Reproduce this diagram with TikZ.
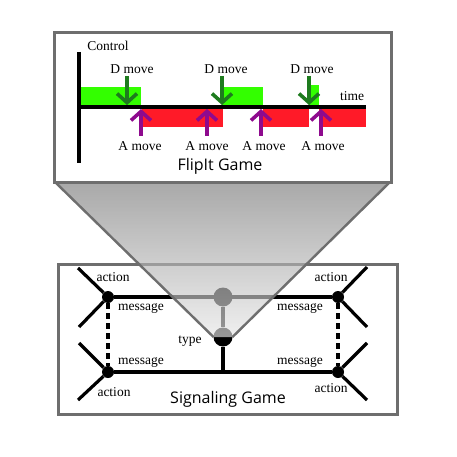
\documentclass[tikz,border=0pt]{standalone}
\usepackage{fontspec}
\setmainfont{Liberation Serif}
\setsansfont{Open Sans}
\usepackage{tikz}
\usetikzlibrary{arrows.meta,positioning}

\definecolor{frame}{HTML}{6E6E6E}
\definecolor{ctrlgreen}{HTML}{33FF00}
\definecolor{ctrlred}{HTML}{FF1A28}
\definecolor{dgreen}{HTML}{1E7B1E}
\definecolor{apurple}{HTML}{8E0A8E}

\begin{document}
\begin{tikzpicture}[x=1pt,y=-1pt,font=\fontsize{13.5}{15}\selectfont,
  >={Straight Barb[length=9pt,width=20pt]},
  box/.style={draw=frame,line width=3pt,fill=white},
  dot/.style={circle,fill=black,inner sep=0pt,minimum size=12pt},
  bigdot/.style={circle,fill=black,inner sep=0pt,minimum size=19pt},
  branch/.style={line width=3.2pt},
  infoset/.style={line width=3.2pt,dash pattern=on 6pt off 4pt},
  dmove/.style={draw=dgreen,line width=3.6pt,->},
  amove/.style={draw=apurple,line width=3.6pt,->},
  title/.style={font=\sffamily\fontsize{16}{18}\selectfont}]
\useasboundingbox (0,0) rectangle (457,457);

% Signaling game
\draw[box] (58,264) rectangle (397,414);
\node[dot] (lt) at (108,297) {};
\node[dot] (lb) at (108,372) {};
\node[dot] (rt) at (338,297) {};
\node[dot] (rb) at (338,372) {};
\node[bigdot] (ct) at (223,297) {};
\node[bigdot] (ty) at (223,337) {};
\coordinate (tyfoot) at (223,372);
\draw[branch] (lt) -- (rt);
\draw[branch] (lb) -- (rb);
\draw[branch] (ct) -- (ty) -- (tyfoot);
\draw[infoset] (lt) -- (lb);
\draw[infoset] (rt) -- (rb);
\draw[branch] (78,268) -- (lt) -- (79,327);
\draw[branch] (79,343) -- (lb) -- (78,400);
\draw[branch] (367,267) -- (rt) -- (367,327);
\draw[branch] (367,343) -- (rb) -- (367,400);
\node at (113,277) {action};
\node at (141,308) {message};
\node at (141,362) {message};
\node at (114,392) {action};
\node at (331,277) {action};
\node at (300,308) {message};
\node at (300,362) {message};
\node at (331,388) {action};
\node at (190,341) {type};
\node[title] (sg) at (228,399) {Signaling Game};

% zoom triangle, cut flat at the type node
\shade[top color=black!52,bottom color=black!9,opacity=0.65] (55,182) -- (390,182) -- (232.5,337) -- (213.5,337) -- cycle;
\draw[frame,line width=2.4pt] (55,182) -- (213.5,337);
\draw[frame,line width=2.4pt] (390,182) -- (232.5,337);

% FlipIt game
\draw[box] (54,33) rectangle (391,182);
\fill[ctrlgreen] (79,87) rectangle (141,107);
\fill[ctrlgreen] (222,87) rectangle (263,107);
\fill[ctrlgreen] (309,85) rectangle (319,107);
\fill[ctrlred] (142,107) rectangle (223,127);
\fill[ctrlred] (263,107) rectangle (309,127);
\fill[ctrlred] (319,107) rectangle (366,127);
\draw[line width=3.6pt] (79,52) -- (79,163);
\draw[line width=3.6pt] (79,107) -- (366,107);
\node at (108,46) {Control};
\node at (352,96) {time};
\foreach \x/\lx in {127/132,222/226,309/312}{
  \node (d\x) at (\lx,69) {D move};
  \draw[dmove] (\x,76) -- (\x,105);
}
\foreach \x/\lx in {141/140,207/207,261/264,321/323}{
  \node (a\x) at (\lx,146) {A move};
  \draw[amove] (\x,136) -- (\x,109);
}
\node[title] (fg) at (220,166) {FlipIt Game};
\end{tikzpicture}
\end{document}
